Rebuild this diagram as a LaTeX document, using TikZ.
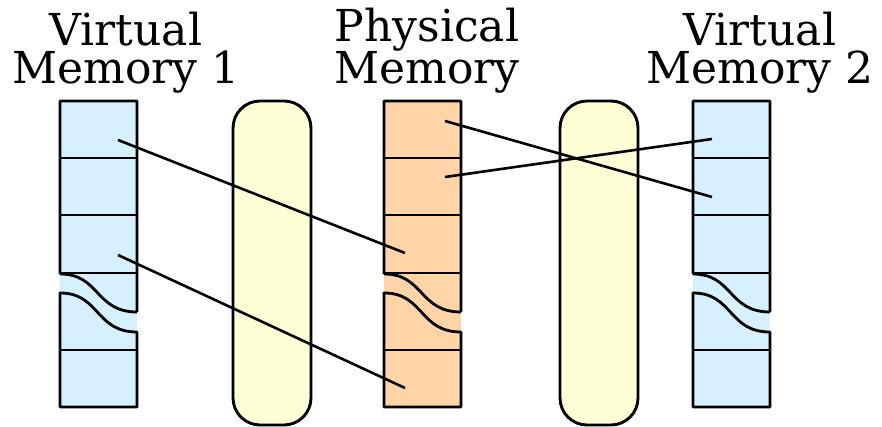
\documentclass[tikz,border=0pt]{standalone}
\usepackage{fontspec}
\setmainfont{DejaVu Serif}
\begin{document}
\begin{tikzpicture}[x=1pt,y=-1pt,
  outline/.style={draw=black,line width=2.8pt,line join=round},
  divider/.style={draw=black,line width=2.8pt},
  link/.style={draw=black,line width=2.6pt},
  capsule/.style={draw=black,line width=2.9pt,fill=capyellow,rounded corners=27pt},
  title/.style={anchor=base,inner sep=0pt,align=center,
    font=\fontsize{44}{38}\selectfont}]
\definecolor{memblue}{RGB}{214,240,255}
\definecolor{memorange}{RGB}{255,213,168}
\definecolor{capyellow}{RGB}{255,255,214}
\useasboundingbox (0,0) rectangle (882,427);

% translation layers between the memories
\draw[capsule] (233,101) rectangle (311,425);
\draw[capsule] (560,101) rectangle (638,425);

% a memory column with a break: #1 left edge, #2 fill colour
\newcommand\memorycolumn[2]{%
  \begin{scope}[shift={(#1,0)}]
    \fill[#2] (0,101) rectangle (77,407);
    % upper part
    \draw[outline] (0,274) -- (0,101) -- (77,101) -- (77,312)
      (0,274) .. controls (40,274) and (35,312) .. (77,312);
    \draw[divider] (0,158) -- (77,158) (0,215) -- (77,215) (0,273) -- (77,273);
    % lower part
    \draw[outline] (0,293) .. controls (40,293) and (35,332) .. (77,332)
      -- (77,407) -- (0,407) -- cycle;
    \draw[divider] (0,350) -- (77,350);
  \end{scope}}

\memorycolumn{60}{memblue}
\memorycolumn{384}{memorange}
\memorycolumn{693}{memblue}

% headings (anchored on the baseline of the second line)
\node[title] (vm1) at (126,84) {Virtual\\Memory 1};
\node[title] (pm) at (427,84) {Physical\\Memory};
\node[title] (vm2) at (760,84) {Virtual\\Memory 2};

% page anchors
\coordinate (vm1p0) at (118,140);
\coordinate (vm1p2) at (118,255);
\coordinate (pm0) at (445,121);
\coordinate (pm1) at (445,177);
\coordinate (pm2) at (405,253);
\coordinate (pm5) at (405,388);
\coordinate (vm2p0) at (712,139);
\coordinate (vm2p1) at (712,197);

% mappings
\draw[link] (vm1p0) -- (pm2);
\draw[link] (vm1p2) -- (pm5);
\draw[link] (pm0) -- (vm2p1);
\draw[link] (pm1) -- (vm2p0);
\end{tikzpicture}
\end{document}
